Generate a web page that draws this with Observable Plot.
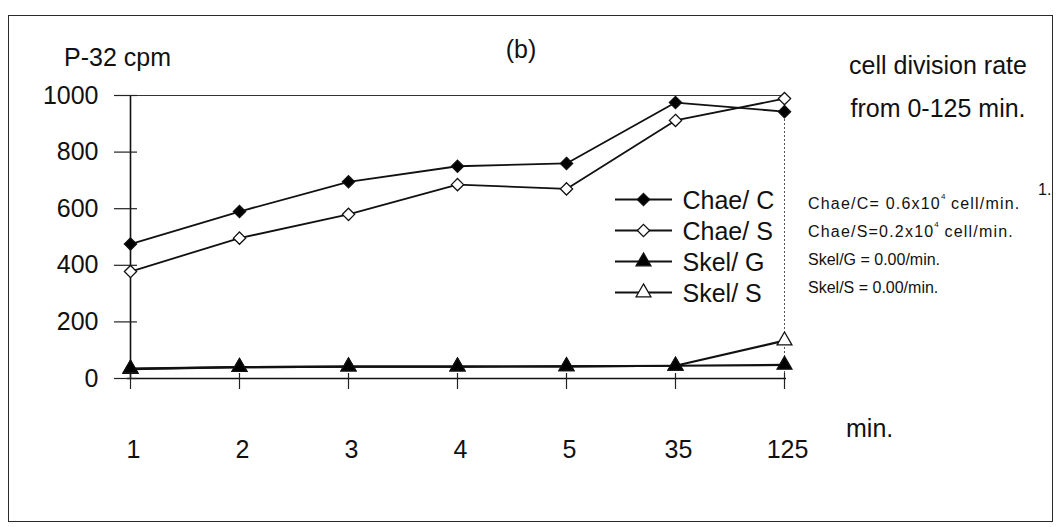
<!DOCTYPE html>
<html>
<head>
<meta charset="utf-8">
<script src="https://cdn.jsdelivr.net/npm/d3@7"></script>
<script src="https://cdn.jsdelivr.net/npm/@observablehq/plot@0.6"></script>
<style>
  html, body { margin: 0; padding: 0; background: #fff; }
  #fig { position: relative; width: 1062px; height: 527px; overflow: hidden;
         font-family: "Liberation Sans", Arial, sans-serif; color: #111; }
  #fig svg { position: absolute; overflow: visible; }
  .box { position: absolute; left: 8px; top: 15px; width: 1043px; height: 505px;
         border: 1.5px solid #2a2a2a; }
  .t { position: absolute; white-space: nowrap; line-height: 1; }
  .t sup { font-size: 0.5em; vertical-align: top; position: relative; top: -3px; letter-spacing: 0; }
</style>
</head>
<body>
<div id="fig"><div class="box"></div></div>
<script>
// Sampling times (min) and P-32 counts per series
const minutes = ["1", "2", "3", "4", "5", "35", "125"];
const chaeC = [475, 590, 695, 750, 760, 975, 943];
const chaeS = [378, 496, 580, 685, 670, 912, 989];
const skelG = [35, 40, 42, 42, 43, 45, 48];
const skelS = [33, 40, 42, 42, 43, 45, 134];
const yTicks = [0, 200, 400, 600, 800, 1000];

const seriesNames = ["Chae/ C", "Chae/ S", "Skel/ G", "Skel/ S"];
const seriesSymbols = ["diamond2", "diamond2", "triangle", "triangle"];
const seriesFills = ["black", "white", "black", "white"];

const rateLines = [
  "Chae/C= 0.6x10<sup>4</sup> cell/min.",
  "Chae/S=0.2x10<sup>4</sup> cell/min.",
  "Skel/G = 0.00/min.",
  "Skel/S = 0.00/min."
];

// Long-form table; open-marker series first so the filled ones sit on top
const bySeries = {"Chae/ C": chaeC, "Chae/ S": chaeS, "Skel/ G": skelG, "Skel/ S": skelS};
const drawOrder = ["Skel/ S", "Skel/ G", "Chae/ S", "Chae/ C"];
const rows = drawOrder.flatMap(s => minutes.map((m, i) => ({series: s, minute: m, value: bySeries[s][i]})));

const W = 1062, H = 527;
const mL = 127, mR = 276, mT = 95, mB = 149;
const frameW = W - mL - mR, frameH = H - mT - mB;
const bigText = 25;
const font = {fontFamily: "'Liberation Sans', Arial, sans-serif", fontSize: bigText + "px", color: "#111", background: "transparent"};

const chart = Plot.plot({
  width: W, height: H,
  marginLeft: mL, marginRight: mR, marginTop: mT, marginBottom: mB,
  style: font,
  x: {type: "point", domain: minutes, padding: 0},
  y: {domain: [0, 1000]},
  symbol: {domain: seriesNames, range: seriesSymbols},
  color: {domain: seriesNames, range: seriesFills},
  marks: [
    Plot.ruleY([1000], {stroke: "#333", strokeWidth: 1}),
    Plot.ruleX(["125"], {stroke: "#555", strokeWidth: 1, strokeDasharray: "2,2"}),
    Plot.ruleX(["1"], {stroke: "#111", strokeWidth: 1.6}),
    Plot.ruleY([0], {stroke: "#111", strokeWidth: 1.6}),
    Plot.tickY(yTicks, {y: d => d, insetLeft: -13, insetRight: frameW - 10, stroke: "#222", strokeWidth: 1.2}),
    Plot.tickX(minutes, {x: d => d, insetTop: frameH - 5, insetBottom: -11, stroke: "#222", strokeWidth: 1.2}),
    Plot.axisY({ticks: yTicks, tickSize: 0, tickPadding: 29, fontSize: bigText, tickFormat: d => String(d), label: null}),
    Plot.axisX({tickSize: 0, tickPadding: 62, fontSize: bigText, dx: 3, label: null}),
    Plot.line(rows, {x: "minute", y: "value", z: "series", stroke: "#111",
      strokeWidth: d => d.series.startsWith("Skel") ? 2.2 : 1.8}),
    Plot.dot(rows, {x: "minute", y: "value", symbol: "series", fill: "series",
      stroke: "#111", strokeWidth: 1.3, r: 5.5})
  ]
});
chart.style.left = "0px";
chart.style.top = "0px";
document.getElementById("fig").appendChild(chart);

// Series key: line segment with marker, then name
const key = Plot.plot({
  width: 200, height: 130,
  marginLeft: 0, marginRight: 0, marginTop: 15, marginBottom: 20,
  style: font,
  x: {domain: [0, 200], range: [0, 200], axis: null},
  y: {type: "point", domain: seriesNames, padding: 0, axis: null},
  symbol: {domain: seriesNames, range: seriesSymbols},
  color: {domain: seriesNames, range: seriesFills},
  marks: [
    Plot.ruleY(seriesNames, {y: d => d, x1: 5, x2: 62, stroke: "#111", strokeWidth: 1.8}),
    Plot.dot(seriesNames, {x: 33, y: d => d, symbol: d => d, fill: d => d, stroke: "#111", strokeWidth: 1.3, r: 5.5}),
    Plot.text(seriesNames, {x: 72, y: d => d, text: d => d, textAnchor: "start", fontSize: bigText, dy: 1, fill: "#111"})
  ]
});
key.style.left = "610px";
key.style.top = "183px";
document.getElementById("fig").appendChild(key);

// Free-standing text
function place(html, x, y, size, anchor = "start", spacing = 0) {
  const el = document.createElement("div");
  el.className = "t";
  el.innerHTML = html;
  el.style.left = x + "px";
  el.style.top = y + "px";
  el.style.fontSize = size + "px";
  el.style.letterSpacing = spacing + "px";
  const ax = anchor === "middle" ? "-50%" : anchor === "end" ? "-100%" : "0";
  el.style.transform = `translate(${ax}, -50%)`;
  document.getElementById("fig").appendChild(el);
}
place("P-32 cpm", 64, 57, bigText);
place("(b)", 521, 49, bigText, "middle");
place("cell division rate", 938, 65, bigText, "middle");
place("from 0-125 min.", 938, 108, bigText, "middle");
rateLines.forEach((s, i) => place(s, 808, 204 + i * 28, 16, "start", i < 2 ? 1.2 : 0));
place("min.", 846, 428, bigText);
place("1.", 1038, 190, 16);
</script>
</body>
</html>
